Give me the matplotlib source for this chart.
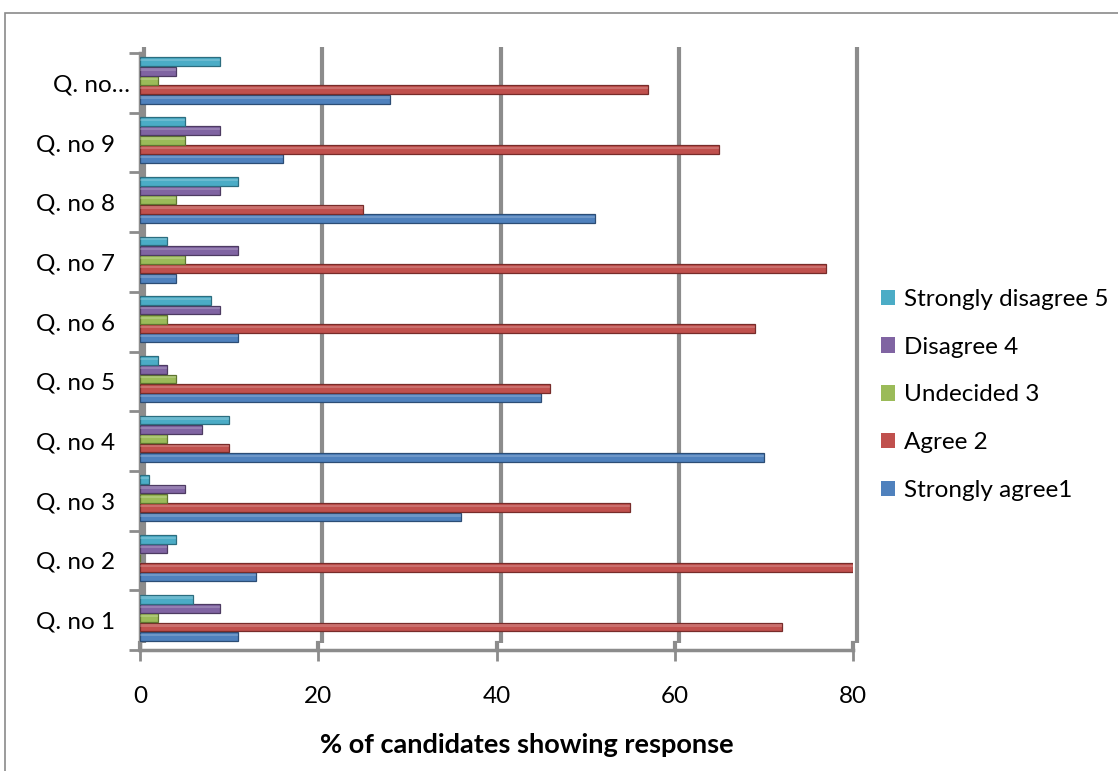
import matplotlib
matplotlib.use("Agg")
import matplotlib.pyplot as plt
import matplotlib.transforms as mtransforms
from matplotlib.patches import Rectangle
import numpy as np

plt.rcParams['font.family'] = ['Lato', 'DejaVu Sans']

categories = ["Q. no 1", "Q. no 2", "Q. no 3", "Q. no 4", "Q. no 5",
              "Q. no 6", "Q. no 7", "Q. no 8", "Q. no 9", "Q. no…"]
strongly_agree = [11, 13, 36, 70, 45, 11, 4, 51, 16, 28]
agree = [72, 80, 55, 10, 46, 69, 77, 25, 65, 57]
undecided = [2, 0, 3, 3, 4, 3, 5, 4, 5, 2]
disagree = [9, 3, 5, 7, 3, 9, 11, 9, 9, 4]
strongly_disagree = [6, 4, 1, 10, 2, 8, 3, 11, 5, 9]
series_names = ["Strongly agree1", "Agree 2", "Undecided 3", "Disagree 4", "Strongly disagree 5"]
x_ticks = [0, 20, 40, 60, 80]

series = [strongly_agree, agree, undecided, disagree, strongly_disagree]
colors = ["#4F81BD", "#C0504D", "#9BBB59", "#8064A2", "#4BACC6"]
edges = ["#2c4d75", "#772c2a", "#5f7530", "#4d3b62", "#2c6d7f"]

W, H = 1118, 771
fig = plt.figure(figsize=(W / 100, H / 100), dpi=100)
ax = fig.add_axes([140 / W, 1 - 650 / H, (853 - 140) / W, (650 - 53) / H])

# outer chart frame
fig.patches.append(Rectangle((5 / W, -0.1), 1.2, 1 - 13 / H + 0.1, transform=fig.transFigure,
                             fill=False, edgecolor="#8a8a8a", linewidth=1.2, zorder=0))

y = np.arange(1, len(categories) + 1)
step = 0.156
h = 0.148
shift = 0.04
for i, (vals, c, e, name) in enumerate(zip(series, colors, edges, series_names)):
    pos = y + shift + (i - 2) * step
    ax.barh(pos, vals, height=h, color=c, edgecolor=e, linewidth=0.9, label=name, zorder=3)
    # highlight strip for a slight 3D look
    ax.barh(pos + h * 0.18, vals, height=h * 0.25, color="white", alpha=0.18,
            linewidth=0, zorder=4)

ax.set_xlim(0, 80)
ax.set_ylim(0.5, len(categories) + 0.5)

# 3D-like gridlines (back wall)
off = mtransforms.ScaledTranslation(4 / 100, 0, fig.dpi_scale_trans)
blend = mtransforms.blended_transform_factory(ax.transData, ax.transAxes)
for xv in x_ticks:
    ax.plot([xv, xv], [1.01, 0.012], color="#8c8c8c", lw=3, transform=blend + off,
            clip_on=False, zorder=1, solid_capstyle="butt")
    ax.plot([xv, xv], [0.012, 0.0], color="#8c8c8c", lw=3, transform=blend,
            clip_on=False, zorder=1)

for s in ["top", "right"]:
    ax.spines[s].set_visible(False)
for s in ["left", "bottom"]:
    ax.spines[s].set_color("#8c8c8c")
    ax.spines[s].set_linewidth(2.5)

ax.set_xticks(x_ticks)
ax.set_xticklabels([str(v) for v in x_ticks])
ax.set_yticks(y)
ax.set_yticklabels(categories)
ax.set_yticks(np.arange(0.5, len(categories) + 1, 1), minor=True)
ax.tick_params(axis="y", which="major", length=0, pad=18, labelsize=17.5)
ax.tick_params(axis="y", which="minor", length=8, width=2, color="#8c8c8c")
ax.tick_params(axis="x", length=8, width=2, color="#8c8c8c", pad=18, labelsize=17.5)

# the truncated label sits a little further right in the reference
last = ax.get_yticklabels()[-1]
last.set_transform(last.get_transform() +
                   mtransforms.ScaledTranslation(15 / 100, 0, fig.dpi_scale_trans))

ax.set_xlabel("% of candidates showing response", fontsize=19.5, fontweight="bold")
ax.xaxis.set_label_coords((527 - 140) / 713, (650 - 733) / 597)

handles, labels = ax.get_legend_handles_labels()
leg = ax.legend(handles[:5][::-1], labels[:5][::-1], loc="center left",
                bbox_to_anchor=(871 / W, 1 - 395 / H), bbox_transform=fig.transFigure,
                frameon=False, fontsize=17.5, handlelength=0.6, handleheight=0.6,
                handletextpad=0.35, labelspacing=1.1, borderaxespad=0)
for p in leg.get_patches():
    p.set_edgecolor("none")

fig.savefig("out.png", dpi=100)
